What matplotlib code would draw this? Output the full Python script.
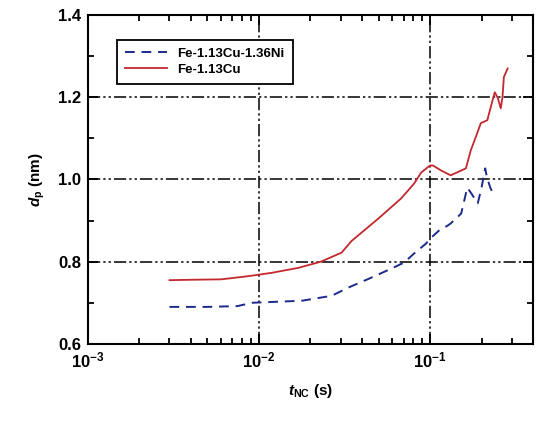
import matplotlib
matplotlib.use("Agg")
import matplotlib.pyplot as plt
from matplotlib.ticker import LogLocator, MultipleLocator, NullFormatter

plt.rcParams['font.family'] = ['Liberation Sans', 'DejaVu Sans']
plt.rcParams['mathtext.fontset'] = 'custom'
plt.rcParams['mathtext.rm'] = 'Liberation Sans:bold'
plt.rcParams['mathtext.it'] = 'Liberation Sans:bold:italic'
plt.rcParams['mathtext.bf'] = 'Liberation Sans:bold'

# Fe-1.13Cu-1.36Ni (dashed)
t_ni = [0.003, 0.005, 0.0075, 0.0091, 0.0119, 0.0178, 0.0266, 0.0333, 0.0436, 0.0593,
        0.0706, 0.0807, 0.0947, 0.1, 0.113, 0.127, 0.132, 0.152, 0.165, 0.173,
        0.19, 0.2, 0.21, 0.215, 0.225, 0.232]
d_ni = [0.690, 0.690, 0.692, 0.700, 0.702, 0.705, 0.717, 0.737, 0.758, 0.783,
        0.798, 0.820, 0.844, 0.856, 0.876, 0.888, 0.893, 0.917, 0.980, 0.968,
        0.942, 0.980, 1.027, 1.005, 0.980, 0.968]

# Fe-1.13Cu (solid)
t_cu = [0.003, 0.004, 0.006, 0.008, 0.0091, 0.0119, 0.017, 0.023, 0.0304, 0.0347,
        0.0499, 0.0678, 0.0807, 0.0888, 0.1, 0.104, 0.1158, 0.132, 0.162, 0.173,
        0.185, 0.198, 0.216, 0.232, 0.239, 0.249, 0.259, 0.265, 0.27, 0.284]
d_cu = [0.755, 0.756, 0.757, 0.763, 0.766, 0.773, 0.785, 0.800, 0.822, 0.850,
        0.905, 0.954, 0.990, 1.017, 1.034, 1.034, 1.022, 1.010, 1.027, 1.071,
        1.103, 1.137, 1.144, 1.193, 1.212, 1.198, 1.173, 1.200, 1.249, 1.270]

xlim = (1e-3, 0.4)
ylim = (0.6, 1.4)

fig = plt.figure(figsize=(5.39, 4.23), dpi=100)
ax = fig.add_axes([0.163, 0.187, 0.826, 0.7775])

ax.plot(t_ni, d_ni, linestyle=(0, (5, 3.5)), color='#1c2a8c', lw=1.4,
        label='Fe-1.13Cu-1.36Ni')
ax.plot(t_cu, d_cu, linestyle='-', color='#c3282f', lw=1.3, label='Fe-1.13Cu')

ax.set_xscale('log')
ax.set_xlim(*xlim)
ax.set_ylim(*ylim)
ax.yaxis.set_major_locator(MultipleLocator(0.2))
ax.yaxis.set_minor_locator(MultipleLocator(0.1))
ax.xaxis.set_major_locator(LogLocator(base=10, numticks=10))
ax.xaxis.set_minor_locator(LogLocator(base=10, subs=range(2, 10), numticks=20))
ax.xaxis.set_minor_formatter(NullFormatter())

ax.grid(True, which='major', color='black', lw=1.1, linestyle=(0, (8, 2, 1.5, 2, 1.5, 2)))

for s in ax.spines.values():
    s.set_linewidth(1.5)
ax.tick_params(which='both', direction='in', top=True, right=True, width=1.3)
ax.tick_params(which='major', length=7, labelsize=12, pad=5)
ax.tick_params(which='minor', length=4)
ax.set_yticks([0.6, 0.8, 1.0, 1.2, 1.4])
ax.set_yticklabels(['0.6', '0.8', '1.0', '1.2', '1.4'], fontweight='bold')
ax.set_xticks([1e-3, 1e-2, 1e-1])
ax.set_xticklabels([r'$\mathbf{10^{-3}}$', r'$\mathbf{10^{-2}}$', r'$\mathbf{10^{-1}}$'], fontsize=12)

ax.set_xlabel(r'$t_{\mathrm{NC}}$ (s)', fontsize=11, fontweight='bold', labelpad=8)
ax.set_ylabel(r'$d_{\mathrm{p}}$ (nm)', fontsize=11, fontweight='bold', labelpad=8)

leg = ax.legend(loc='upper left', bbox_to_anchor=(0.05, 0.945), frameon=True,
                fancybox=False, edgecolor='black', framealpha=1,
                prop={'weight': 'bold', 'size': 9.5}, handlelength=3.2,
                borderpad=0.6, labelspacing=0.3)
leg.get_frame().set_linewidth(1.3)

fig.savefig('out.png', dpi=100)
